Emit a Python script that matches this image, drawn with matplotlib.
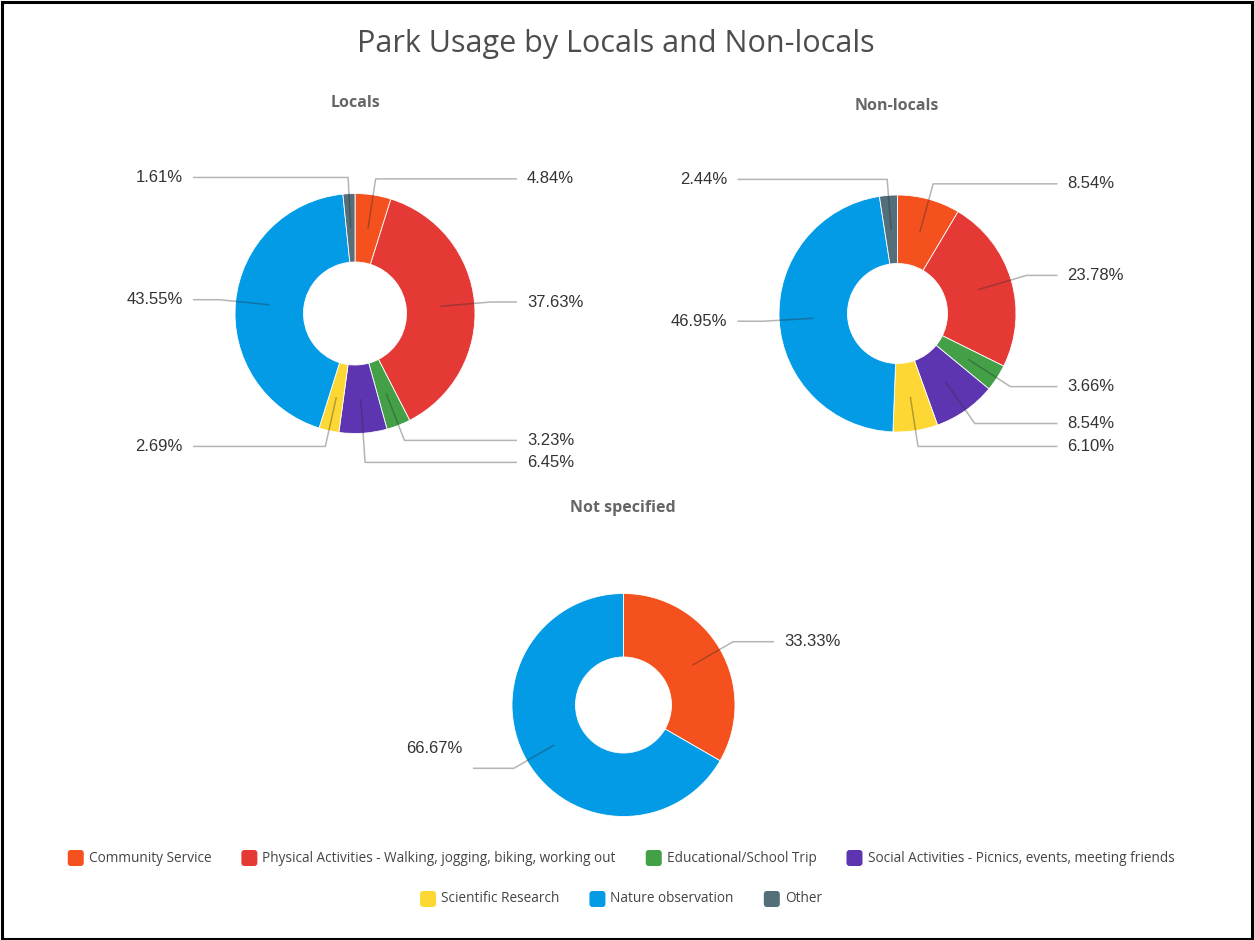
import matplotlib
matplotlib.use("Agg")
import matplotlib.pyplot as plt
from matplotlib.patches import FancyBboxPatch, Rectangle
import numpy as np

# ---- data -------------------------------------------------------------
categories = [
    "Community Service",
    "Physical Activities - Walking, jogging, biking, working out",
    "Educational/School Trip",
    "Social Activities - Picnics, events, meeting friends",
    "Scientific Research",
    "Nature observation",
    "Other",
]
colors = ["#F4511E", "#E53935", "#43A047", "#5E35B1", "#FDD835", "#039BE5", "#546E7A"]

locals_share = [4.84, 37.63, 3.23, 6.45, 2.69, 43.55, 1.61]
nonlocals_share = [8.54, 23.78, 3.66, 8.54, 6.10, 46.95, 2.44]
not_specified_share = [33.33, 0, 0, 0, 0, 66.67, 0]

panel_titles = ["Locals", "Non-locals", "Not specified"]
chart_title = "Park Usage by Locals and Non-locals"

# ---- canvas (one axes in pixel units, y pointing up) ------------------
W, H = 1254, 940
fig = plt.figure(figsize=(W / 100, H / 100), dpi=100)
ax = fig.add_axes([0, 0, 1, 1])

LABEL_FONT = ["Liberation Sans", "DejaVu Sans"]
UI_FONT = ["Open Sans", "DejaVu Sans"]


def Y(y):
    return H - y


panels = [
    dict(title=panel_titles[0], values=locals_share, cx=355, cy=313.5, r=120, hole=51.5,
         title_x=355, title_y=103, nudge={}),
    dict(title=panel_titles[1], values=nonlocals_share, cx=897.5, cy=313.5, r=118.5, hole=50,
         title_x=897, title_y=106, nudge={}),
    dict(title=panel_titles[2], values=not_specified_share, cx=623.5, cy=705, r=111.5, hole=48,
         title_x=623, title_y=508, nudge={5: 20}),
]

GAP = 22

for p in panels:
    vals = np.array(p["values"], dtype=float)
    idx = [i for i, v in enumerate(vals) if v > 0]
    cx, cy, R, r_in = p["cx"], Y(p["cy"]), p["r"], p["hole"]
    wedges, _ = ax.pie(
        vals[idx],
        colors=[colors[i] for i in idx],
        startangle=90,
        counterclock=False,
        center=(cx, cy),
        radius=R,
        wedgeprops=dict(width=R - r_in, edgecolor="white", linewidth=0.6),
    )

    r_anchor = (R + r_in) / 2
    r_elbow = 1.135 * R
    labels = []
    for w, i in zip(wedges, idx):
        mid = np.deg2rad((w.theta1 + w.theta2) / 2)
        side = 1 if np.cos(mid) >= 0 else -1
        labels.append(dict(i=i, mid=mid, side=side,
                           y_nat=cy + r_elbow * np.sin(mid)))

    # keep labels on the same side from overlapping
    for side in (1, -1):
        group = sorted([l for l in labels if l["side"] == side], key=lambda l: -l["y_nat"])
        prev = None
        for l in group:
            y = l["y_nat"]
            if prev is not None and y > prev - GAP:
                y = prev - GAP
            l["y"] = y
            prev = y

    for l in labels:
        mid, side, y = l["mid"], l["side"], l["y"]
        ax_x = cx + r_anchor * np.cos(mid)
        ax_y = cy + r_anchor * np.sin(mid)
        if abs(y - l["y_nat"]) > 0.5 and abs(np.sin(mid)) > 0.3:
            r_e = (y - cy) / np.sin(mid)
        else:
            r_e = r_elbow
        ex = cx + r_e * np.cos(mid)
        x_end = cx + side * 1.35 * R
        ax.plot([ax_x, ex, x_end], [ax_y, y, y], color="#2b2b2b", alpha=0.35,
                lw=1.1, solid_capstyle="butt", zorder=3)
        ty = y + p["nudge"].get(l["i"], 0)
        ax.text(x_end + side * 10, ty, f"{vals[l['i']]:.2f}%",
                ha="left" if side > 0 else "right", va="center",
                fontsize=12, family=LABEL_FONT, color="#333333", zorder=4)

    ax.text(p["title_x"], Y(p["title_y"]), p["title"], ha="center", va="center",
            fontsize=11.5, fontweight="bold", family=UI_FONT, color="#666666")

# ---- chart title ------------------------------------------------------
ax.text(615.5, Y(44), chart_title, ha="center", va="center", fontsize=22,
        family=UI_FONT, color="#4d4d4d")

# ---- legend (two centred rows) ----------------------------------------
renderer = fig.canvas.get_renderer()
rows = [([0, 1, 2, 3], 858), ([4, 5, 6], 899)]
SW, SW_GAP, ITEM_GAP = 16, 5, 30
for items, y_img in rows:
    texts = []
    for i in items:
        t = ax.text(0, Y(y_img), categories[i], ha="left", va="center", fontsize=9.8,
                    family=UI_FONT, color="#444444")
        texts.append(t)
    widths = [t.get_window_extent(renderer=renderer).width for t in texts]
    total = sum(SW + SW_GAP + w for w in widths) + ITEM_GAP * (len(items) - 1)
    x = 621 - total / 2
    for i, t, w in zip(items, texts, widths):
        ax.add_patch(FancyBboxPatch((x, Y(y_img) - SW / 2), SW, SW,
                                    boxstyle="round,pad=0,rounding_size=3",
                                    facecolor=colors[i], edgecolor="none"))
        t.set_x(x + SW + SW_GAP)
        x += SW + SW_GAP + w + ITEM_GAP

# ---- frame ------------------------------------------------------------
ax.add_patch(Rectangle((1.5, 1.5), W - 3.5, H - 3.5, fill=False, edgecolor="black",
                       lw=2.2, zorder=10))

ax.set_xlim(0, W)
ax.set_ylim(0, H)
ax.set_aspect("equal")
ax.axis("off")

fig.savefig("out.png", dpi=100, facecolor="white")
